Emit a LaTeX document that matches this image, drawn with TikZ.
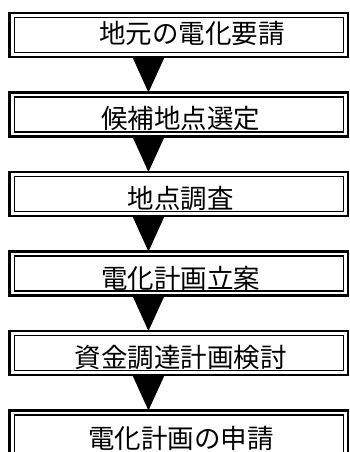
\documentclass[tikz,border=0pt]{standalone}
\usepackage{fontspec}
\newfontfamily\jp{Noto Sans CJK JP}
\usetikzlibrary{calc}
\begin{document}
\begin{tikzpicture}[x=1pt,y=1pt,
  box/.style={draw=black, line width=2.7pt, minimum width=338.2pt, minimum height=44pt,
    inner sep=0pt, outer sep=0pt},
  innerline/.style={draw=black, line width=1.7pt},
  txt/.style={font=\jp\fontsize{26.5}{30}\selectfont, inner sep=0pt, anchor=center},
  arrowhead/.style={fill=black}]
\useasboundingbox (0,0) rectangle (349,452);

\node[box] (b1) at (178.85,417) {};
\node[box] (b2) at (178.85,337.5) {};
\node[box] (b3) at (178.85,258) {};
\node[box] (b4) at (178.85,178.5) {};
\node[box] (b5) at (178.85,99) {};
\node[box, minimum height=52pt] (b6) at (178.85,15.5) {};

\foreach \n in {b1,b2,b3,b4,b5,b6}
  \draw[innerline] ([shift={(4.6,-4.4)}]\n.north west) rectangle
    ([shift={(-4.6,4.4)}]\n.south east);

\node[txt] (t1) at ($(b1.center)+(13,2)$) {地元の電化要請};
\node[txt] (t2) at ($(b2.center)+(2,-4.5)$) {候補地点選定};
\node[txt] (t3) at ($(b3.center)+(2,-4.5)$) {地点調査};
\node[txt] (t4) at ($(b4.center)+(2,-4.5)$) {電化計画立案};
\node[txt] (t5) at ($(b5.center)+(2,-4.5)$) {資金調達計画検討};
\node[txt] (t6) at ($(b6.center)+(2,-1.5)$) {電化計画の申請};

\foreach \a/\b in {b1/b2,b2/b3,b3/b4,b4/b5,b5/b6}
  \fill[arrowhead] ($(\a.south)+(-46.5,0)$) -- ($(\a.south)+(-14.2,0)$)
    -- ($(\b.north)+(-30.4,0)$) -- cycle;
\end{tikzpicture}
\end{document}
